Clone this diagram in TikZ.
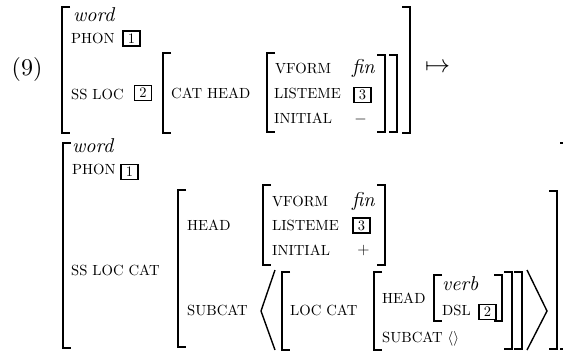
\RequirePackage{fix-cm}
\documentclass[tikz,border=0pt]{standalone}
\DeclareFontFamily{TU}{lmten}{}
\DeclareFontShape{TU}{lmten}{m}{n}{<-> "[lmroman10-regular]:+tlig;"}{}
\DeclareFontShape{TU}{lmten}{m}{it}{<-> "[lmroman10-italic]:+tlig;"}{}
\renewcommand\rmdefault{lmten}
\newcommand\avmL[3]{\draw[brk] ({#1+8},#2) -- (#1,#2) -- (#1,#3) -- ({#1+8},#3);}
\newcommand\avmR[3]{\draw[brk] ({#1-8},#2) -- (#1,#2) -- (#1,#3) -- ({#1-8},#3);}
\begin{document}
\begin{tikzpicture}[x=1pt,y=-1pt,
  brk/.style={line width=1.4pt, line join=miter},
  feat/.style={inner sep=0pt, anchor=base west, font=\fontsize{14.7}{17}\selectfont},
  val/.style={inner sep=0pt, anchor=base west, font=\fontsize{20}{24}\selectfont\itshape},
  sym/.style={inner sep=0pt, font=\fontsize{16}{19}\selectfont},
  tagbox/.style={draw, line width=1.6pt, inner sep=0pt, minimum width=17pt, minimum height=15pt, font=\fontsize{14.5}{17}\selectfont}
]
\useasboundingbox (0,0) rectangle (563,351);
\clip (0,0) rectangle (563,351);
% ---------- first AVM ----------
\node (ex) at (27,75.5) [anchor=base, inner sep=0pt, font=\fontsize{24}{28}\selectfont] {(9)};
\avmL{62}{7}{133}
\node[val] (w1) at (73,21) {word};
\node[feat] (p1) at (71,43) {PHON};
\node[tagbox] (t1a) at (131.5,38.5) {1};
\node[feat] (s1) at (71,99) {SS LOC};
\node[tagbox] (t2a) at (143,93) {2};
\avmL{163}{53}{133}
\node[feat] (c1) at (171,98) {CAT HEAD};
\avmL{267}{53}{132}
\node[feat] (vf1) at (275,73) {VFORM};
\node[feat] (ls1) at (274,98) {LISTEME};
\node[feat] (in1) at (274,123) {INITIAL};
\node[val] (fin1) at (352,73) {fin};
\node[tagbox] (t3a) at (362.5,95) {3};
\node[sym] (mi) at (360.5,119) {$-$};
\avmR{385}{55}{132}
\avmR{397}{55}{132}
\avmR{410}{7}{133}
\node (map) at (437.5,68) [inner sep=0pt, font=\fontsize{25}{30}\selectfont] {$\mapsto$};
% ---------- second AVM ----------
\avmL{63}{143}{348}
\avmR{568}{143}{349}
\node[val] (w2) at (72,152) {word};
\node[feat] (p2) at (72,174) {PHON};
\node[tagbox] (t1b) at (129.5,172) {1};
\node[feat] (s2) at (71,275) {SS LOC CAT};
\avmL{178}{190}{347}
\avmR{557}{191}{349}
\node[feat] (h2) at (187,230) {HEAD};
\node[feat] (sc2) at (187,315) {SUBCAT};
\avmL{263}{185}{265}
\avmR{385}{185}{265}
\node[feat] (vf2) at (272,206) {VFORM};
\node[feat] (ls2) at (272,230) {LISTEME};
\node[feat] (in2) at (272,255) {INITIAL};
\node[val] (fin2) at (352,206) {fin};
\node[tagbox] (t3b) at (361.5,225.5) {3};
\node[sym] (pl) at (363.5,250) {$+$};
\draw[brk] (275,270) -- (261,311) -- (275,350);
\avmL{282}{272}{350}
\node[feat] (lc) at (290,315) {LOC CAT};
\avmL{374}{272}{350}
\node[feat] (h3) at (382,303) {HEAD};
\node[feat] (sc3) at (382,342) {SUBCAT $\langle\rangle$};
\avmL{434}{275}{321}
\node[val] (vb) at (442,290) {verb};
\node[feat] (dsl) at (442,315) {DSL};
\node[tagbox] (t2b) at (487.5,312) {2};
\avmR{502}{275}{321}
\avmR{512}{272}{349}
\avmR{522}{272}{349}
\draw[brk] (527,270) -- (547,311) -- (527,350);
\end{tikzpicture}
\end{document}
